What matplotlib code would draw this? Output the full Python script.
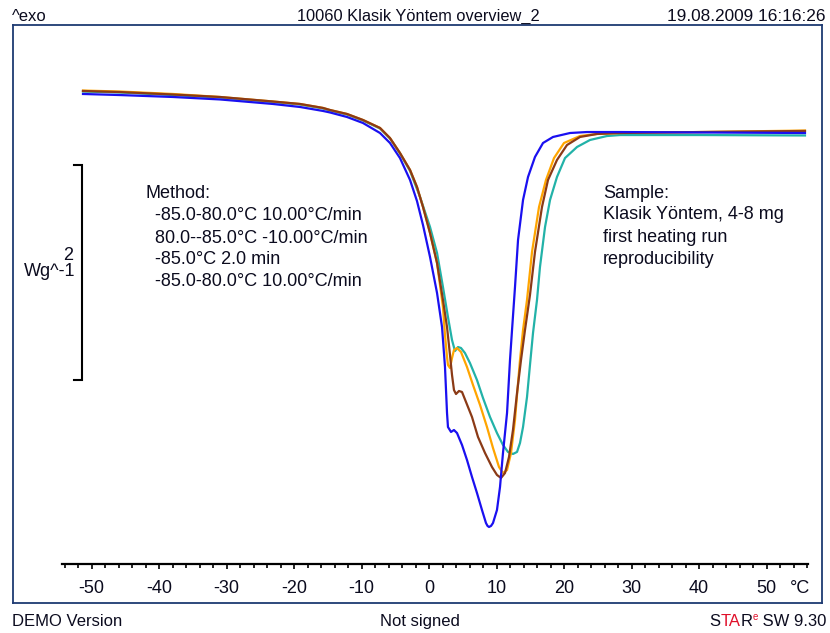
import matplotlib
matplotlib.use("Agg")
import matplotlib.pyplot as plt
from matplotlib.ticker import FixedLocator

plt.rcParams['font.family'] = ['Liberation Sans', 'DejaVu Sans']
plt.rcParams['axes.unicode_minus'] = False

# ---------------- data (temperature in °C, heat flow in W/g) ----------------
blue_T = [-51.26, -45.78, -37.93, -30.96, -23.11, -19.11, -15.70, -14.67, -12.15, -9.78,
          -7.26, -5.78, -4.30, -2.81, -1.78, -0.89, 0.15, 1.19, 1.93, 2.37,
          2.67, 2.81, 3.26, 3.70, 4.15, 4.89, 5.63, 6.37, 7.11, 7.85,
          8.44, 8.67, 8.89, 9.19, 9.48, 10.07, 10.52, 10.96, 11.56, 12.00, 12.30, 12.74,
          13.19, 13.93, 14.67, 15.70, 16.89, 18.37, 20.89, 23.41, 28.30, 40.15, 55.70]
blue_HF = [0.363, 0.353, 0.335, 0.312, 0.270, 0.242, 0.205, 0.191, 0.149, 0.093,
           0.0, -0.093, -0.233, -0.437, -0.633, -0.856, -1.153, -1.488, -1.805, -2.177,
           -2.605, -2.735, -2.781, -2.763, -2.791, -2.902, -3.042, -3.200, -3.349, -3.507,
           -3.628, -3.655, -3.665, -3.655, -3.628, -3.507, -3.293, -2.977, -2.605, -2.112, -1.833, -1.433,
           -0.995, -0.623, -0.409, -0.223, -0.093, -0.037, 0.0, 0.009, 0.009, 0.005, 0.0]

brown_T = [-51.26, -45.78, -37.93, -30.96, -23.11, -19.11, -15.70, -14.67, -12.15, -9.78,
           -7.26, -5.78, -4.30, -2.81, -1.78, -0.89, 0.15, 1.19, 2.07, 2.67,
           3.11, 3.41, 3.70, 4.00, 4.44, 4.89, 5.48, 6.37, 7.26, 8.30,
           9.33, 10.07, 10.67, 11.26, 11.85, 12.44, 13.04, 13.63, 14.22, 14.96,
           15.70, 16.74, 17.63, 18.96, 20.44, 22.37, 24.89, 28.30, 40.15, 55.70]
brown_HF = [0.391, 0.381, 0.358, 0.335, 0.293, 0.270, 0.233, 0.214, 0.177, 0.121,
            0.047, -0.047, -0.186, -0.344, -0.502, -0.688, -0.930, -1.209, -1.553, -1.805,
            -2.065, -2.251, -2.391, -2.428, -2.400, -2.409, -2.502, -2.642, -2.828, -2.977,
            -3.107, -3.181, -3.209, -3.163, -3.014, -2.763, -2.419, -2.112, -1.833, -1.507,
            -1.107, -0.688, -0.437, -0.251, -0.112, -0.037, -0.009, 0.0, 0.009, 0.019]

orange_T = [-51.26, -45.78, -37.93, -30.96, -23.11, -19.11, -15.70, -14.67, -12.15, -9.78,
            -7.26, -5.78, -4.30, -2.81, -1.78, -0.89, 0.15, 1.19, 2.07, 2.37,
            2.67, 2.81, 3.11, 3.41, 3.70, 4.15, 4.74, 5.63, 6.52, 7.56,
            8.59, 9.48, 10.37, 10.96, 11.56, 12.15, 12.74, 13.04, 13.48, 13.93,
            14.52, 15.26, 16.30, 17.33, 18.52, 20.00, 22.37, 24.89, 28.30, 40.15, 55.70]
orange_HF = [0.395, 0.386, 0.363, 0.335, 0.293, 0.270, 0.233, 0.214, 0.177, 0.121,
             0.047, -0.047, -0.186, -0.344, -0.502, -0.688, -0.930, -1.209, -1.619, -1.879,
             -2.084, -2.158, -2.186, -2.093, -2.019, -2.000, -2.037, -2.177, -2.344, -2.530,
             -2.735, -2.930, -3.107, -3.163, -3.135, -2.977, -2.670, -2.437, -2.112, -1.833,
             -1.553, -1.107, -0.688, -0.437, -0.233, -0.093, -0.028, -0.009, 0.0, 0.009, 0.023]

teal_T = [-51.26, -45.78, -37.93, -30.96, -23.11, -19.11, -15.70, -14.67, -12.15, -9.78,
          -7.26, -5.78, -4.30, -2.81, -1.33, 0.15, 1.19, 2.07, 2.81, 3.41,
          3.85, 4.30, 4.74, 5.33, 6.07, 7.11, 8.00, 9.04, 10.07, 10.96,
          11.70, 12.44, 13.04, 13.48, 13.93, 14.52, 14.96, 15.41, 16.00, 16.44,
          17.19, 17.93, 18.96, 20.15, 21.93, 23.85, 26.37, 28.30, 40.15, 55.70]
teal_HF = [0.386, 0.377, 0.353, 0.330, 0.288, 0.265, 0.228, 0.209, 0.172, 0.116,
           0.042, -0.051, -0.191, -0.353, -0.595, -0.874, -1.116, -1.433, -1.712, -1.926,
           -2.028, -1.991, -2.000, -2.047, -2.140, -2.298, -2.465, -2.642, -2.791, -2.902,
           -2.967, -2.986, -2.967, -2.884, -2.735, -2.456, -2.158, -1.860, -1.553, -1.247,
           -0.874, -0.623, -0.409, -0.233, -0.130, -0.065, -0.028, -0.019, -0.019, -0.023]

major_ticks = [-50, -40, -30, -20, -10, 0, 10, 20, 30, 40, 50]
minor_ticks = list(range(-54, 57, 2))
method_lines = ["Method:", "-85.0-80.0°C 10.00°C/min", "80.0--85.0°C -10.00°C/min",
                "-85.0°C 2.0 min", "-85.0-80.0°C 10.00°C/min"]
sample_lines = ["Sample:", "Klasik Yöntem, 4-8 mg", "first heating run", "reproducibility"]

# ---------------- figure ----------------
W, H = 830, 633
fig = plt.figure(figsize=(W / 100, H / 100), dpi=100)
fig.patch.set_facecolor('white')

def fx(px):
    return px / W

def fy(py):
    return 1 - py / H

TXT = '#0b0b1e'
FRAME = '#1e3a72'

left, right, top, bottom = 13, 822, 25, 603
pos = [fx(left), fy(bottom), fx(right) - fx(left), fy(top) - fy(bottom)]
xlim = ((left - 429) / 6.75, (right - 429) / 6.75)
ylim = ((133 - bottom) / 107.5, (133 - top) / 107.5)

ax = fig.add_axes(pos)
ax.set_xlim(*xlim)
ax.set_ylim(*ylim)
ax.set_xticks([])
ax.set_yticks([])
for s in ax.spines.values():
    s.set_color(FRAME)
    s.set_linewidth(1.3)

lw = 1.6
ax.plot(teal_T, teal_HF, color='#22b2a8', lw=lw, solid_joinstyle='round')
ax.plot(orange_T, orange_HF, color='#ffa500', lw=lw, solid_joinstyle='round')
ax.plot(brown_T, brown_HF, color='#8b3a16', lw=lw, solid_joinstyle='round')
ax.plot(blue_T, blue_HF, color='#1a10f0', lw=lw, solid_joinstyle='round')

# scale bar: 2 W/g
sb_x, sb_x0 = (82 - 429) / 6.75, (74 - 429) / 6.75
sb_top, sb_bot = -0.298, -2.298
ax.plot([sb_x0, sb_x, sb_x, sb_x0], [sb_top, sb_top, sb_bot, sb_bot],
        color='black', lw=1.5, solid_joinstyle='miter')

# temperature axis inside frame
tax = fig.add_axes(pos, facecolor='none')
tax.set_xlim(*xlim)
tax.set_ylim(*ylim)
for k in ('top', 'left', 'right'):
    tax.spines[k].set_visible(False)
tax.spines['bottom'].set_position(('data', (133 - 564) / 107.5))
tax.spines['bottom'].set_bounds(-54.3, 56.2)
tax.spines['bottom'].set_linewidth(1.6)
tax.spines['bottom'].set_color('black')
tax.set_yticks([])
tax.xaxis.set_major_locator(FixedLocator(major_ticks))
tax.xaxis.set_minor_locator(FixedLocator([t for t in minor_ticks if t not in major_ticks]))
tax.set_xticklabels([str(t) for t in major_ticks])
tax.tick_params(axis='x', which='major', direction='out', length=3.4, width=1.2,
                color='black', labelsize=13, labelcolor=TXT, pad=8.0)
tax.tick_params(axis='x', which='minor', direction='out', length=3.0, width=1.2, color='black')
fig.text(fx(800), fy(592.7), "°C", fontsize=13, color=TXT, ha='center', va='baseline')

# header
fig.text(fx(12), fy(21), "^exo", fontsize=12, color=TXT, ha='left', va='baseline')
fig.text(fx(418), fy(21), "10060 Klasik Yöntem overview_2", fontsize=11.8, color=TXT,
         ha='center', va='baseline')
fig.text(fx(825), fy(21), "19.08.2009 16:16:26", fontsize=12.4, color=TXT,
         ha='right', va='baseline')

# y scale label
fig.text(fx(73), fy(259.5), "2", fontsize=13, color=TXT, ha='right', va='baseline')
fig.text(fx(75), fy(275.5), "Wg^-1", fontsize=13, color=TXT, ha='right', va='baseline')

# method annotations
m_base = [197.5, 220, 242.5, 264.5, 286.5]
for i, (line, b) in enumerate(zip(method_lines, m_base)):
    fig.text(fx(145 if i == 0 else 155), fy(b), line, fontsize=13, color=TXT,
             ha='left', va='baseline')
s_base = [197.5, 219.5, 241.5, 263.5]
for line, b in zip(sample_lines, s_base):
    fig.text(fx(603), fy(b), line, fontsize=13, color=TXT, ha='left', va='baseline')

# footer
fig.text(fx(12), fy(626), "DEMO Version", fontsize=12, color=TXT, ha='left', va='baseline')
fig.text(fx(420), fy(626), "Not signed", fontsize=12, color=TXT, ha='center', va='baseline')

pieces = [("S", TXT, 12, 0), ("TA", '#e0102a', 12, 0), ("R", TXT, 12, 0),
          ("e", '#e0102a', 7, 6), (" SW 9.30", TXT, 12, 0)]
texts = []
for s, c, size, dy in pieces:
    t = fig.text(0, 0, s, color=c, fontsize=size, ha='left', va='baseline')
    texts.append((t, dy))
fig.canvas.draw()
r = fig.canvas.get_renderer()
widths = [t.get_window_extent(r).width for t, _ in texts]
x = 826 - sum(widths)
for (t, dy), w in zip(texts, widths):
    t.set_position((fx(x), fy(626 - dy)))
    x += w

fig.savefig("out.png", dpi=100, facecolor='white')
